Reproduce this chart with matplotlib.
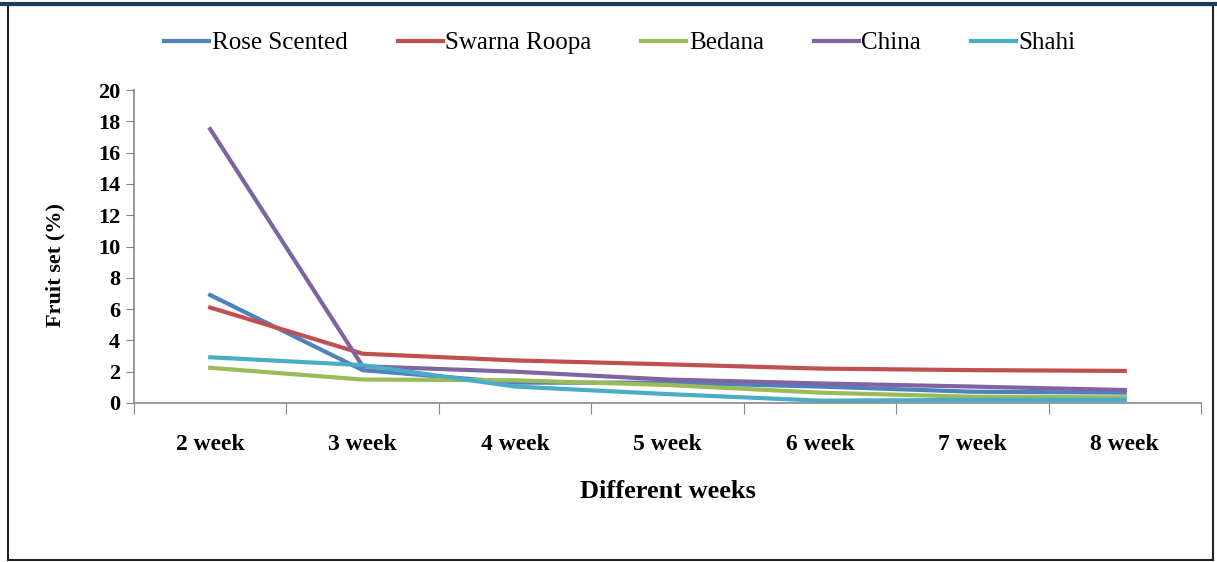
import matplotlib
matplotlib.use("Agg")
import matplotlib.pyplot as plt
from matplotlib.patches import Rectangle
from matplotlib.lines import Line2D

weeks = ["2 week", "3 week", "4 week", "5 week", "6 week", "7 week", "8 week"]
rose_scented = [6.9, 2.1, 1.3, 1.3, 1.05, 0.72, 0.66]
swarna_roopa = [6.1, 3.15, 2.72, 2.47, 2.2, 2.1, 2.05]
bedana = [2.25, 1.5, 1.45, 1.15, 0.66, 0.4, 0.36]
china = [17.5, 2.35, 2.0, 1.5, 1.25, 1.05, 0.83]
shahi = [2.92, 2.42, 1.05, 0.57, 0.15, 0.2, 0.2]

series_names = ["Rose Scented", "Swarna Roopa", "Bedana", "China", "Shahi"]
series_values = [rose_scented, swarna_roopa, bedana, china, shahi]
colors = ["#4F81BD", "#C0504D", "#9BBB59", "#8064A2", "#4BACC6"]
y_ticks = list(range(0, 21, 2))

plt.rcParams["font.family"] = ["Liberation Serif", "DejaVu Serif"]

fig = plt.figure(figsize=(12.17, 5.62), dpi=100)
W, H = 1217, 562

# page rule and chart frame
fig.add_artist(Line2D([0, 1], [1 - 4 / H, 1 - 4 / H], transform=fig.transFigure,
                      color="#1F3B5C", lw=3))
fig.add_artist(Rectangle((8 / W, 2 / H), (1213 - 8) / W, (555) / H,
                         transform=fig.transFigure, fill=False,
                         edgecolor="#222222", lw=1.5))

ax = fig.add_axes([134 / W, 1 - 403 / H, (1201 - 134) / W, (403 - 90) / H])
x = list(range(len(weeks)))
handles = []
for name, vals, c in zip(series_names, series_values, colors):
    h, = ax.plot(x, vals, color=c, lw=3, solid_joinstyle="miter", label=name)
    handles.append(h)

ax.set_xlim(-0.5, len(weeks) - 0.5)
ax.set_ylim(0, 20)
ax.set_yticks(y_ticks)
ax.set_yticklabels([str(v) for v in y_ticks], fontsize=16, fontweight="bold")
ax.set_xticks([i - 0.5 for i in range(len(weeks) + 1)])
ax.set_xticklabels([])
ax.set_xticks(x, minor=True)
ax.set_xticklabels(weeks, minor=True, fontsize=17, fontweight="bold")
ax.tick_params(axis="x", which="minor", length=0, pad=22)
ax.tick_params(axis="x", which="major", length=8, color="#888888", direction="out")
ax.tick_params(axis="y", length=6, color="#888888", direction="out", pad=4)

for s in ["top", "right"]:
    ax.spines[s].set_visible(False)
for s in ["left", "bottom"]:
    ax.spines[s].set_color("#888888")
    ax.spines[s].set_linewidth(1.2)

ax.set_ylabel("Fruit set (%)", fontsize=16, fontweight="bold")
ax.yaxis.set_label_coords(-0.064, 0.44)
ax.set_xlabel("Different weeks", fontsize=19, fontweight="bold", labelpad=18)

fig.legend(handles=handles, loc="center", bbox_to_anchor=(620 / W, 1 - 43 / H),
           ncol=5, frameon=False, fontsize=18, handlelength=1.8,
           handletextpad=0.1, columnspacing=2.0)

fig.savefig("out.png", dpi=100)
